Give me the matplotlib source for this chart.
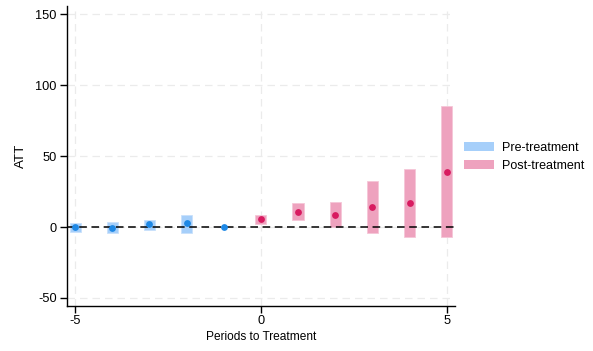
import matplotlib
matplotlib.use("Agg")
import matplotlib.pyplot as plt
from matplotlib.patches import Patch

plt.rcParams['font.family'] = ['Liberation Sans', 'DejaVu Sans']
plt.rcParams['axes.unicode_minus'] = False

# Event-study estimates
pre_periods = [-5, -4, -3, -2, -1]
pre_att = [0.0, -0.5, 1.9, 2.6, 0.0]
pre_lo = [-3.1, -4.0, -2.1, -4.0, 0.0]
pre_hi = [3.0, 3.3, 5.2, 8.7, 0.0]

post_periods = [0, 1, 2, 3, 4, 5]
post_att = [5.4, 10.8, 8.7, 14.1, 16.7, 39.0]
post_lo = [2.1, 4.9, 0.0, -4.0, -7.1, -7.1]
post_hi = [8.7, 16.7, 17.9, 32.5, 40.9, 85.4]

x_ticks = [-5, 0, 5]
y_ticks = [-50, 0, 50, 100, 150]

pre_box = '#a6cffa'
pre_edge = '#c9e1fb'
pre_dot = '#1e88e5'
post_box = '#eea2be'
post_edge = '#f5c6d7'
post_dot = '#d81b60'
box_w = 0.3

fig = plt.figure(figsize=(5.93, 3.51), dpi=100)
ax = fig.add_axes([0.113, 0.128, 0.654, 0.855])

for xs, lo, hi, col, ec in [(pre_periods, pre_lo, pre_hi, pre_box, pre_edge),
                            (post_periods, post_lo, post_hi, post_box, post_edge)]:
    heights = [h - l for h, l in zip(hi, lo)]
    ax.bar(xs, heights, bottom=lo, width=box_w, color=col,
           edgecolor=ec, linewidth=0.6, zorder=2)

ax.axhline(0, color='black', linestyle=(0, (5, 3)), linewidth=1.1, zorder=3)

ax.scatter(pre_periods, pre_att, s=24, color=pre_dot, zorder=4, linewidths=0)
ax.scatter(post_periods, post_att, s=24, color=post_dot, zorder=4, linewidths=0)

ax.set_xlim(-5.22, 5.22)
ax.set_ylim(-55.7, 156)
ax.set_xticks(x_ticks)
ax.set_yticks(y_ticks)
ax.grid(True, color='#ebebeb', linestyle=(0, (6, 4)), linewidth=0.9, zorder=0)
ax.set_axisbelow(True)

for s in ['top', 'right']:
    ax.spines[s].set_visible(False)
for s in ['left', 'bottom']:
    ax.spines[s].set_linewidth(1.0)
ax.tick_params(axis='both', labelsize=9.2, length=5, width=1.0, direction='out',
               colors='black')
ax.tick_params(axis='x', pad=1.5)
ax.tick_params(axis='y', pad=2.5)

ax.set_xlabel('Periods to Treatment', fontsize=8.6, labelpad=2.5)
ax.set_ylabel('ATT', fontsize=9.6, labelpad=6)

handles = [Patch(facecolor=pre_box, edgecolor='none', label='Pre-treatment'),
           Patch(facecolor=post_box, edgecolor='none', label='Post-treatment')]
fig.legend(handles=handles, loc='center left', bbox_to_anchor=(0.7825, 0.553),
           frameon=False, fontsize=9, handlelength=2.4, handleheight=0.76,
           handletextpad=0.67, labelspacing=0.45, borderpad=0,
           borderaxespad=0)

fig.savefig('out.png', dpi=100)
